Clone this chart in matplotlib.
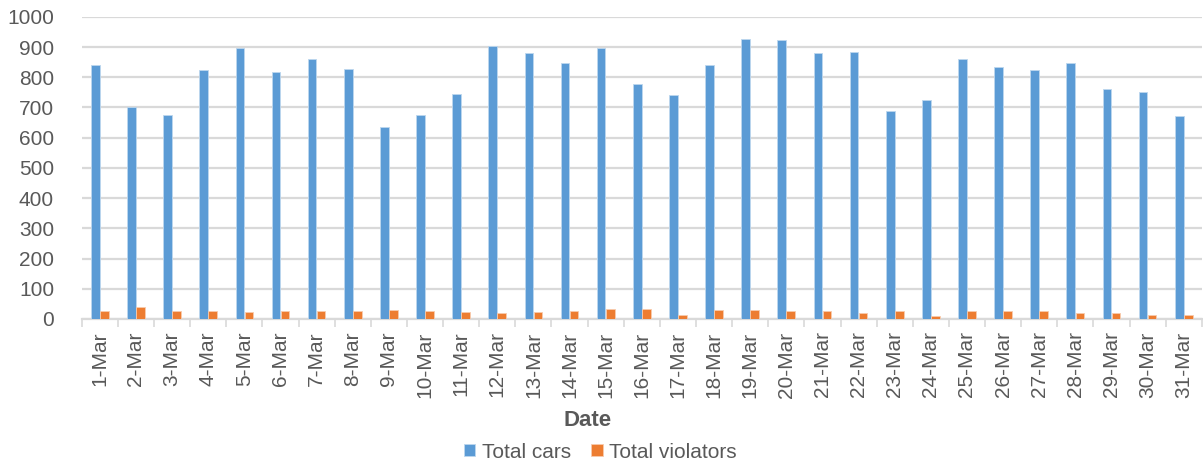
import numpy as np
import matplotlib.pyplot as plt

dates = [f"{d}-Mar" for d in range(1, 32)]
total_cars = [840, 700, 675, 823, 897, 816, 860, 828, 635, 675,
              745, 905, 881, 848, 897, 778, 742, 839, 926, 922,
              881, 885, 689, 725, 860, 835, 823, 848, 762, 750, 672]
total_violators = [27, 39, 27, 27, 22, 27, 27, 27, 31, 27,
                   22, 19, 22, 27, 34, 34, 14, 31, 31, 27,
                   27, 19, 27, 10, 27, 27, 27, 19, 19, 14, 14]

BLUE = "#5B9BD5"
ORANGE = "#ED7D31"
GRAY = "#595959"
GRID = "#D9D9D9"

plt.rcParams["font.family"] = ["Liberation Sans", "DejaVu Sans"]

fig = plt.figure(figsize=(12.03, 4.67), dpi=100)
ax = fig.add_axes([0.068, 0.317, 0.931, 0.647])

x = np.arange(len(dates))
w = 0.24
ax.bar(x - w / 2 - 0.005, total_cars, width=w, color=BLUE, label="Total cars",
       edgecolor="#BDD7EE", linewidth=0.6, zorder=3)
ax.bar(x + w / 2 + 0.005, total_violators, width=w, color=ORANGE, label="Total violators",
       edgecolor="#F8CBAD", linewidth=0.6, zorder=3)

ax.set_xlim(-0.5, len(dates) - 0.5)
ax.set_ylim(0, 1000)
ax.set_yticks(range(0, 1001, 100))
ax.yaxis.grid(True, color=GRID, linewidth=1.6, zorder=0)
ax.set_axisbelow(True)

# labels on category centres, small tick marks on category boundaries
ax.set_xticks(x)
ax.set_xticklabels(dates, rotation=90, fontsize=15, color=GRAY)
ax.set_xticks(np.arange(-0.5, len(dates), 1), minor=True)
ax.tick_params(axis="x", which="major", length=0, pad=9)
ax.tick_params(axis="x", which="minor", length=6, width=1.2, color=GRID)
ax.tick_params(axis="y", length=0, labelsize=15, labelcolor=GRAY, pad=20)

for s in ["top", "right", "left"]:
    ax.spines[s].set_visible(False)
ax.spines["bottom"].set_color(GRID)
ax.spines["bottom"].set_linewidth(1.6)

fig.text(0.488, 0.10, "Date", ha="center", va="center", fontsize=16,
         fontweight="bold", color=GRAY)
fig.legend(loc="center", bbox_to_anchor=(0.499, 0.032), ncol=2, frameon=False,
           fontsize=15, handlelength=0.55, handleheight=0.55, handletextpad=0.3,
           columnspacing=1.0, labelcolor=GRAY)

fig.savefig("out.png", dpi=100)
